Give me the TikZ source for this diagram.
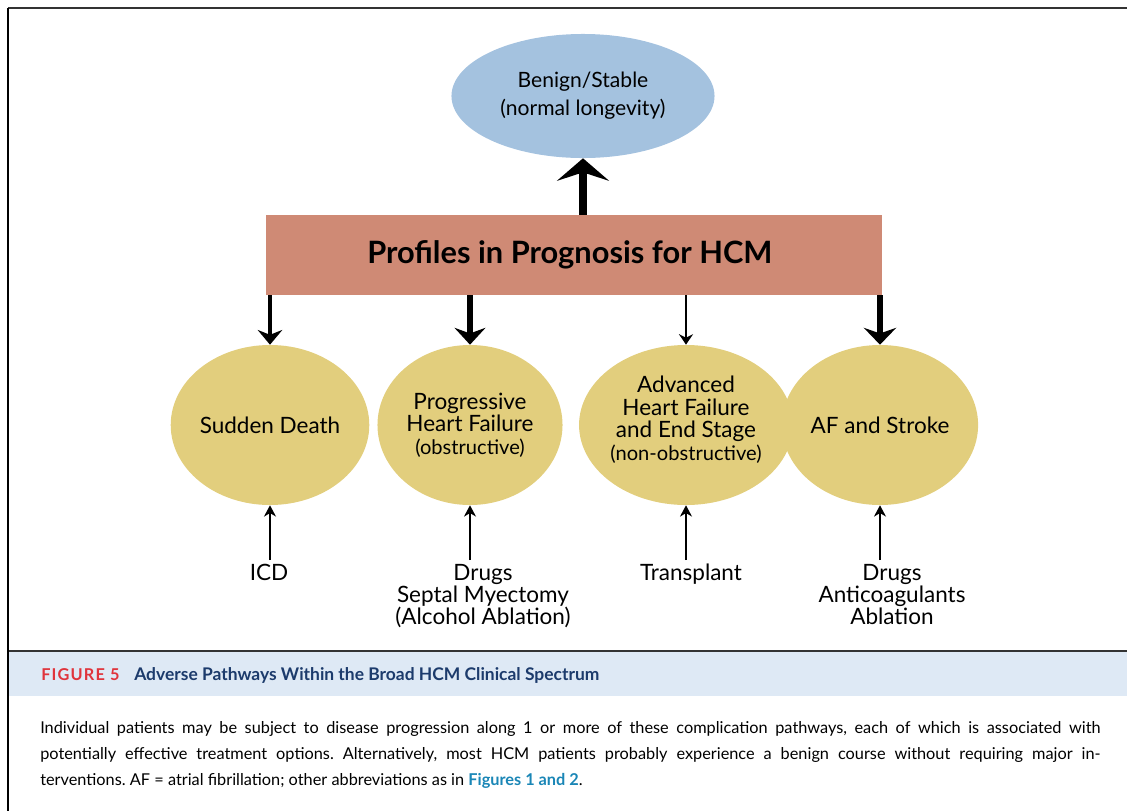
\documentclass[tikz,border=0pt]{standalone}
\usepackage{fontspec}
\setmainfont{Lato}
\usetikzlibrary{arrows.meta,shapes.geometric}

\definecolor{benignblue}{HTML}{A4C2DF}
\definecolor{profilered}{HTML}{CF8A75}
\definecolor{outcomegold}{HTML}{E2CE7D}
\definecolor{bandblue}{HTML}{DEE9F5}
\definecolor{figred}{HTML}{E0343C}
\definecolor{titlenavy}{HTML}{1C3B6C}
\definecolor{linkblue}{HTML}{1A86B6}

\tikzset{
  outcome/.style={ellipse, fill=outcomegold, minimum width=4.625cm, minimum height=4cm,
    inner sep=0pt, align=center, font=\fontsize{16}{16}\selectfont},
  therapy/.style={align=center, inner sep=0pt, outer sep=3pt,
    font=\fontsize{16}{15.6}\selectfont},
  pathway/.style n args={4}{line width=#1, -{Stealth[width=#2, length=#3, inset=#4]}},
  cure/.style={pathway={1.4pt}{8.5pt}{8pt}{2.5pt}}
}
\newcommand{\subnote}{\fontsize{14.3}{14}\selectfont}

\begin{document}
\begin{tikzpicture}[x=0.025cm, y=-0.025cm]
  \useasboundingbox (0,0) rectangle (1127,811);

  %%%%% frame and caption band %%%%%
  \fill[bandblue] (9,651) rectangle (1127,696);
  \draw[line width=1.4pt, black!80] (8,651) -- (1127,651);
  \draw[line width=1.4pt, black!80] (8,8) -- (1127,8);
  \draw[line width=1.4pt] (8,8) -- (8,811);

  %%%%% diagram %%%%%
  \node[ellipse, fill=benignblue, minimum width=6.575cm, minimum height=3.1cm, inner sep=0pt,
    align=center, font=\fontsize{15}{20}\selectfont] (benign) at (583,96)
    {Benign/Stable\\(normal longevity)};

  \node[fill=profilered, minimum width=15.4cm, minimum height=2cm, inner sep=0pt,
    font=\fontsize{21.9}{24}\selectfont\bfseries] (profiles) at (574,255)
    {\hspace*{-6pt}Profiles in Prognosis for HCM};

  \node[outcome] (death) at (270,425) {Sudden Death};
  \node[outcome] (phf) at (470,425) {Progressive\\Heart Failure\\{\subnote(obstructive)}};
  \node[outcome] (ahf) at (686,425) {Advanced\\Heart Failure\\and End Stage\\{\subnote(non-obstructive)}\\[-6pt]};
  \node[outcome] (afs) at (880,425) {AF and Stroke};

  \node[therapy, anchor=north] (icd) at (269,560) {ICD};
  \node[therapy, anchor=north] (myect) at (483,560) {Drugs\\Septal Myectomy\\(Alcohol Ablation)};
  \node[therapy, anchor=north] (tx) at (691,560) {Transplant};
  \node[therapy, anchor=north] (anticoag) at (892,560) {Drugs\\Anticoagulants\\Ablation};

  % arrows out of the profile box
  \draw[pathway={5.7pt}{37pt}{16pt}{6pt}] (profiles.north -| benign.south) -- (benign.south);
  \draw[pathway={2.8pt}{17.5pt}{10.5pt}{3.5pt}] (profiles.south -| death.north) -- (death.north);
  \draw[pathway={4pt}{22pt}{12pt}{4pt}] (profiles.south -| phf.north) -- (phf.north);
  \draw[pathway={1.5pt}{10pt}{7.5pt}{2.5pt}] (profiles.south -| ahf.north) -- (ahf.north);
  \draw[pathway={4.3pt}{23pt}{12pt}{4pt}] (profiles.south -| afs.north) -- (afs.north);

  % treatment arrows
  \draw[cure] (icd.north -| death.south) -- (death.south);
  \draw[cure] (myect.north -| phf.south) -- (phf.south);
  \draw[cure] (tx.north -| ahf.south) -- (ahf.south);
  \draw[cure] (anticoag.north -| afs.south) -- (afs.south);

  %%%%% caption %%%%%
  \node[anchor=base west, inner sep=0pt, text=figred,
    font=\fontsize{11.6}{14}\selectfont\bfseries\addfontfeatures{LetterSpace=7}] (fignum) at (41,680) {FIGURE 5};
  \node[anchor=base west, inner sep=0pt, text=titlenavy,
    font=\fontsize{12.4}{14}\selectfont\bfseries] (figtitle) at (134,680)
    {Adverse Pathways Within the Broad HCM Clinical Spectrum};
  \node[anchor=north west, inner sep=0pt, text width=26.5cm, align=justify,
    font=\fontsize{11.6}{18.4}\selectfont\frenchspacing] (legend) at (40,721)
    {Individual patients may be subject to disease progression along 1 or more of these complication pathways, each of which is associated with\linebreak
     potentially effective treatment options. Alternatively, most HCM patients probably experience a benign course without requiring major in-\linebreak
     terventions. AF = atrial fibrillation; other abbreviations as in {\color{linkblue}\bfseries Figures 1 and 2}.};
\end{tikzpicture}
\end{document}
